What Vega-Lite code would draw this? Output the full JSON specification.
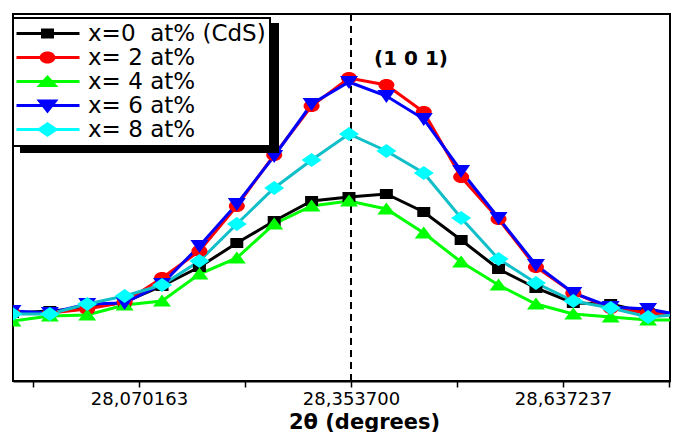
{
  "$schema": "https://vega.github.io/schema/vega-lite/v6.json",
  "width": 657,
  "height": 367,
  "padding": {"left": 12, "top": 13, "right": 4, "bottom": 0},
  "config": {
    "view": {"stroke": "black", "strokeWidth": 2},
    "font": "DejaVu Sans",
    "legend": {"strokeWidth": 2}
  },
  "datasets": {
    "peak": [{"x": 28.3537}],
    "lab": [{"x": 28.434, "y": 322, "t": "(1 0 1)"}],
    "leg": [
      {"x": 28.3, "y": -50, "leg": "x=0\u00a0 at% (CdS)"},
      {"x": 28.3, "y": -50, "leg": "x= 2 at%"},
      {"x": 28.3, "y": -50, "leg": "x= 4 at%"},
      {"x": 28.3, "y": -50, "leg": "x= 6 at%"},
      {"x": 28.3, "y": -50, "leg": "x= 8 at%"}
    ],
    "xrd": [
      {"x": 27.901, "y": 68, "series": "x=0\u00a0 at% (CdS)"},
      {"x": 27.951, "y": 70, "series": "x=0\u00a0 at% (CdS)"},
      {"x": 28.001, "y": 73, "series": "x=0\u00a0 at% (CdS)"},
      {"x": 28.051, "y": 79, "series": "x=0\u00a0 at% (CdS)"},
      {"x": 28.101, "y": 95, "series": "x=0\u00a0 at% (CdS)"},
      {"x": 28.151, "y": 114, "series": "x=0\u00a0 at% (CdS)"},
      {"x": 28.201, "y": 138, "series": "x=0\u00a0 at% (CdS)"},
      {"x": 28.251, "y": 160, "series": "x=0\u00a0 at% (CdS)"},
      {"x": 28.301, "y": 180, "series": "x=0\u00a0 at% (CdS)"},
      {"x": 28.351, "y": 184, "series": "x=0\u00a0 at% (CdS)"},
      {"x": 28.401, "y": 187, "series": "x=0\u00a0 at% (CdS)"},
      {"x": 28.451, "y": 169, "series": "x=0\u00a0 at% (CdS)"},
      {"x": 28.501, "y": 141, "series": "x=0\u00a0 at% (CdS)"},
      {"x": 28.551, "y": 112, "series": "x=0\u00a0 at% (CdS)"},
      {"x": 28.601, "y": 93, "series": "x=0\u00a0 at% (CdS)"},
      {"x": 28.651, "y": 78, "series": "x=0\u00a0 at% (CdS)"},
      {"x": 28.701, "y": 77, "series": "x=0\u00a0 at% (CdS)"},
      {"x": 28.751, "y": 68, "series": "x=0\u00a0 at% (CdS)"},
      {"x": 28.801, "y": 66, "series": "x=0\u00a0 at% (CdS)"},

      {"x": 27.901, "y": 68, "series": "x= 2 at%"},
      {"x": 27.951, "y": 68, "series": "x= 2 at%"},
      {"x": 28.001, "y": 72, "series": "x= 2 at%"},
      {"x": 28.051, "y": 79, "series": "x= 2 at%"},
      {"x": 28.101, "y": 103, "series": "x= 2 at%"},
      {"x": 28.151, "y": 130, "series": "x= 2 at%"},
      {"x": 28.201, "y": 175, "series": "x= 2 at%"},
      {"x": 28.251, "y": 226, "series": "x= 2 at%"},
      {"x": 28.301, "y": 275, "series": "x= 2 at%"},
      {"x": 28.351, "y": 303, "series": "x= 2 at%"},
      {"x": 28.401, "y": 296, "series": "x= 2 at%"},
      {"x": 28.451, "y": 269, "series": "x= 2 at%"},
      {"x": 28.501, "y": 204, "series": "x= 2 at%"},
      {"x": 28.551, "y": 162, "series": "x= 2 at%"},
      {"x": 28.601, "y": 114, "series": "x= 2 at%"},
      {"x": 28.651, "y": 88, "series": "x= 2 at%"},
      {"x": 28.701, "y": 73, "series": "x= 2 at%"},
      {"x": 28.751, "y": 68, "series": "x= 2 at%"},
      {"x": 28.801, "y": 66, "series": "x= 2 at%"},

      {"x": 27.901, "y": 60, "series": "x= 4 at%"},
      {"x": 27.951, "y": 65, "series": "x= 4 at%"},
      {"x": 28.001, "y": 66, "series": "x= 4 at%"},
      {"x": 28.051, "y": 76, "series": "x= 4 at%"},
      {"x": 28.101, "y": 80, "series": "x= 4 at%"},
      {"x": 28.151, "y": 107, "series": "x= 4 at%"},
      {"x": 28.201, "y": 123, "series": "x= 4 at%"},
      {"x": 28.251, "y": 157, "series": "x= 4 at%"},
      {"x": 28.301, "y": 175, "series": "x= 4 at%"},
      {"x": 28.351, "y": 180, "series": "x= 4 at%"},
      {"x": 28.401, "y": 172, "series": "x= 4 at%"},
      {"x": 28.451, "y": 148, "series": "x= 4 at%"},
      {"x": 28.501, "y": 119, "series": "x= 4 at%"},
      {"x": 28.551, "y": 96, "series": "x= 4 at%"},
      {"x": 28.601, "y": 77, "series": "x= 4 at%"},
      {"x": 28.651, "y": 67, "series": "x= 4 at%"},
      {"x": 28.701, "y": 64, "series": "x= 4 at%"},
      {"x": 28.751, "y": 61, "series": "x= 4 at%"},
      {"x": 28.801, "y": 61, "series": "x= 4 at%"},

      {"x": 27.901, "y": 70, "series": "x= 6 at%"},
      {"x": 27.951, "y": 68, "series": "x= 6 at%"},
      {"x": 28.001, "y": 77, "series": "x= 6 at%"},
      {"x": 28.051, "y": 78, "series": "x= 6 at%"},
      {"x": 28.101, "y": 97, "series": "x= 6 at%"},
      {"x": 28.151, "y": 135, "series": "x= 6 at%"},
      {"x": 28.201, "y": 177, "series": "x= 6 at%"},
      {"x": 28.251, "y": 225, "series": "x= 6 at%"},
      {"x": 28.301, "y": 277, "series": "x= 6 at%"},
      {"x": 28.351, "y": 299, "series": "x= 6 at%"},
      {"x": 28.401, "y": 285, "series": "x= 6 at%"},
      {"x": 28.451, "y": 262, "series": "x= 6 at%"},
      {"x": 28.501, "y": 210, "series": "x= 6 at%"},
      {"x": 28.551, "y": 163, "series": "x= 6 at%"},
      {"x": 28.601, "y": 116, "series": "x= 6 at%"},
      {"x": 28.651, "y": 88, "series": "x= 6 at%"},
      {"x": 28.701, "y": 74, "series": "x= 6 at%"},
      {"x": 28.751, "y": 72, "series": "x= 6 at%"},
      {"x": 28.801, "y": 65, "series": "x= 6 at%"},

      {"x": 27.901, "y": 67, "series": "x= 8 at%"},
      {"x": 27.951, "y": 67, "series": "x= 8 at%"},
      {"x": 28.001, "y": 77, "series": "x= 8 at%"},
      {"x": 28.051, "y": 85, "series": "x= 8 at%"},
      {"x": 28.101, "y": 96, "series": "x= 8 at%"},
      {"x": 28.151, "y": 120, "series": "x= 8 at%"},
      {"x": 28.201, "y": 157, "series": "x= 8 at%"},
      {"x": 28.251, "y": 193, "series": "x= 8 at%"},
      {"x": 28.301, "y": 221, "series": "x= 8 at%"},
      {"x": 28.351, "y": 247, "series": "x= 8 at%"},
      {"x": 28.401, "y": 230, "series": "x= 8 at%"},
      {"x": 28.451, "y": 208, "series": "x= 8 at%"},
      {"x": 28.501, "y": 163, "series": "x= 8 at%"},
      {"x": 28.551, "y": 122, "series": "x= 8 at%"},
      {"x": 28.601, "y": 98, "series": "x= 8 at%"},
      {"x": 28.651, "y": 80, "series": "x= 8 at%"},
      {"x": 28.701, "y": 73, "series": "x= 8 at%"},
      {"x": 28.751, "y": 64, "series": "x= 8 at%"},
      {"x": 28.801, "y": 67, "series": "x= 8 at%"}
    ]
  },
  "resolve": {"scale": {"fill": "independent", "shape": "independent"}},
  "layer": [
    {
      "data": {"name": "peak"},
      "mark": {"type": "rule", "strokeDash": [7, 5], "strokeWidth": 2, "color": "black"},
      "encoding": {
        "x": {
          "field": "x", "type": "quantitative",
          "scale": {"domain": [27.9017, 28.7803], "nice": false, "zero": false},
          "axis": {
            "orient": "bottom", "grid": false,
            "title": "2θ (degrees)", "titleFontSize": 21, "titleFontWeight": "bold", "titleColor": "black",
            "titleX": 351, "titleY": 30, "titleAlign": "center", "titleBaseline": "top",
            "labelFontSize": 18, "labelColor": "black", "labelPadding": 3, "labelFlush": false, "labelOverlap": false,
            "tickSize": 6, "tickWidth": 1.5, "tickColor": "black", "domainColor": "black", "domainWidth": 2,
            "values": [27.928395, 28.070163, 28.211932, 28.3537, 28.495469, 28.637237, 28.779006],
            "labelExpr": "(abs(datum.value - 28.070163) < 0.001 || abs(datum.value - 28.3537) < 0.001 || abs(datum.value - 28.637237) < 0.001) ? replace(format(datum.value, '.6f'), '.', ',') : ''"
          }
        }
      }
    },
    {
      "data": {"name": "xrd"},
      "mark": {"type": "line", "strokeWidth": 3, "clip": true},
      "encoding": {
        "x": {"field": "x", "type": "quantitative", "scale": {"domain": [27.9017, 28.7803], "nice": false, "zero": false}},
        "y": {"field": "y", "type": "quantitative", "scale": {"domain": [0, 367], "nice": false, "zero": false}, "axis": null},
        "color": {
          "field": "series", "type": "nominal", "legend": null,
          "scale": {
            "domain": ["x= 8 at%", "x=0\u00a0 at% (CdS)", "x= 2 at%", "x= 4 at%", "x= 6 at%"],
            "range": ["#10bfc8", "#000000", "#ff0000", "#00ff00", "#0000ff"]
          }
        }
      }
    },
    {
      "data": {"name": "xrd"},
      "mark": {"type": "point", "filled": true, "size": 100, "opacity": 1, "clip": true, "strokeWidth": 0},
      "encoding": {
        "x": {"field": "x", "type": "quantitative", "scale": {"domain": [27.9017, 28.7803], "nice": false, "zero": false}},
        "y": {"field": "y", "type": "quantitative", "scale": {"domain": [0, 367], "nice": false, "zero": false}, "axis": null},
        "fill": {
          "field": "series", "type": "nominal", "legend": null,
          "scale": {
            "domain": ["x= 2 at%", "x=0\u00a0 at% (CdS)", "x= 4 at%", "x= 6 at%", "x= 8 at%"],
            "range": ["#ff0000", "#000000", "#00ff00", "#0000ff", "#00ffff"]
          }
        },
        "shape": {
          "field": "series", "type": "nominal", "legend": null,
          "scale": {
            "domain": ["x= 2 at%", "x=0\u00a0 at% (CdS)", "x= 4 at%", "x= 6 at%", "x= 8 at%"],
            "range": [
              "M-1.6,0A1.6,1.2,0,1,1,1.6,0A1.6,1.2,0,1,1,-1.6,0Z",
              "M-1.3,-1L1.3,-1L1.3,1L-1.3,1Z",
              "M0,-1.3L1.8,1.1L-1.8,1.1Z",
              "M-1.8,-1.2L1.8,-1.2L0,1.4Z",
              "M0,-1.4L2,0L0,1.4L-2,0Z"
            ]
          }
        }
      }
    },
    {
      "data": {"name": "leg"},
      "mark": {"type": "point", "filled": true, "opacity": 1, "clip": true, "strokeWidth": 0},
      "encoding": {
        "x": {"field": "x", "type": "quantitative", "scale": {"domain": [27.9017, 28.7803], "nice": false, "zero": false}},
        "y": {"field": "y", "type": "quantitative", "scale": {"domain": [0, 367], "nice": false, "zero": false}, "axis": null},
        "fill": {
          "field": "leg", "type": "nominal",
          "scale": {
            "domain": ["x=0\u00a0 at% (CdS)", "x= 2 at%", "x= 4 at%", "x= 6 at%", "x= 8 at%"],
            "range": ["#000000", "#ff0000", "#00ff00", "#0000ff", "#00ffff"]
          },
          "legend": {
            "orient": "none", "legendX": 0, "legendY": 4, "title": null, "zindex": 2,
            "padding": 4, "rowPadding": 0, "labelOffset": 48, "symbolSize": 400, "symbolStrokeWidth": 0, "symbolOpacity": 1,
            "labelFontSize": 23, "labelColor": "black", "labelLimit": 400,
            "fillColor": "white", "strokeColor": "black"
          }
        },
        "shape": {
          "field": "leg", "type": "nominal",
          "scale": {
            "domain": ["x=0\u00a0 at% (CdS)", "x= 2 at%", "x= 4 at%", "x= 6 at%", "x= 8 at%"],
            "range": [
              "M-1.2,-0.15L5.1,-0.15L5.1,0.15L-1.2,0.15ZM1.25,-0.5L2.55,-0.5L2.55,0.5L1.25,0.5Z",
              "M-1.2,-0.15L5.1,-0.15L5.1,0.15L-1.2,0.15ZM1.1,0A0.8,0.6,0,1,1,2.7,0A0.8,0.6,0,1,1,1.1,0Z",
              "M-1.2,-0.15L5.1,-0.15L5.1,0.15L-1.2,0.15ZM1.9,-0.65L3,0.55L0.8,0.55Z",
              "M-1.2,-0.15L5.1,-0.15L5.1,0.15L-1.2,0.15ZM0.8,-0.6L3,-0.6L1.9,0.8Z",
              "M-1.2,-0.15L5.1,-0.15L5.1,0.15L-1.2,0.15ZM1.9,-0.75L3,0L1.9,0.75L0.8,0Z"
            ]
          }
        },
        "opacity": {
          "field": "leg", "type": "ordinal",
          "scale": {
            "domain": ["x= 8 at%", "x= 6 at%", "x= 4 at%", "x= 2 at%", "x=0\u00a0 at% (CdS)"],
            "range": [1, 1, 1, 1, 1]
          },
          "legend": {
            "orient": "none", "legendX": 8, "legendY": 10, "title": null, "zindex": 1,
            "padding": 4, "rowPadding": 0, "labelOffset": 48, "symbolSize": 400, "symbolStrokeWidth": 0,
            "labelFontSize": 23, "labelColor": "black", "labelLimit": 400,
            "fillColor": "black", "strokeColor": "black", "symbolFillColor": "black"
          }
        }
      }
    },
    {
      "data": {"name": "lab"},
      "mark": {"type": "text", "fontSize": 20, "fontWeight": "bold", "color": "black"},
      "encoding": {
        "x": {"field": "x", "type": "quantitative", "scale": {"domain": [27.9017, 28.7803], "nice": false, "zero": false}},
        "y": {"field": "y", "type": "quantitative", "scale": {"domain": [0, 367], "nice": false, "zero": false}, "axis": null},
        "text": {"field": "t"}
      }
    }
  ]
}
